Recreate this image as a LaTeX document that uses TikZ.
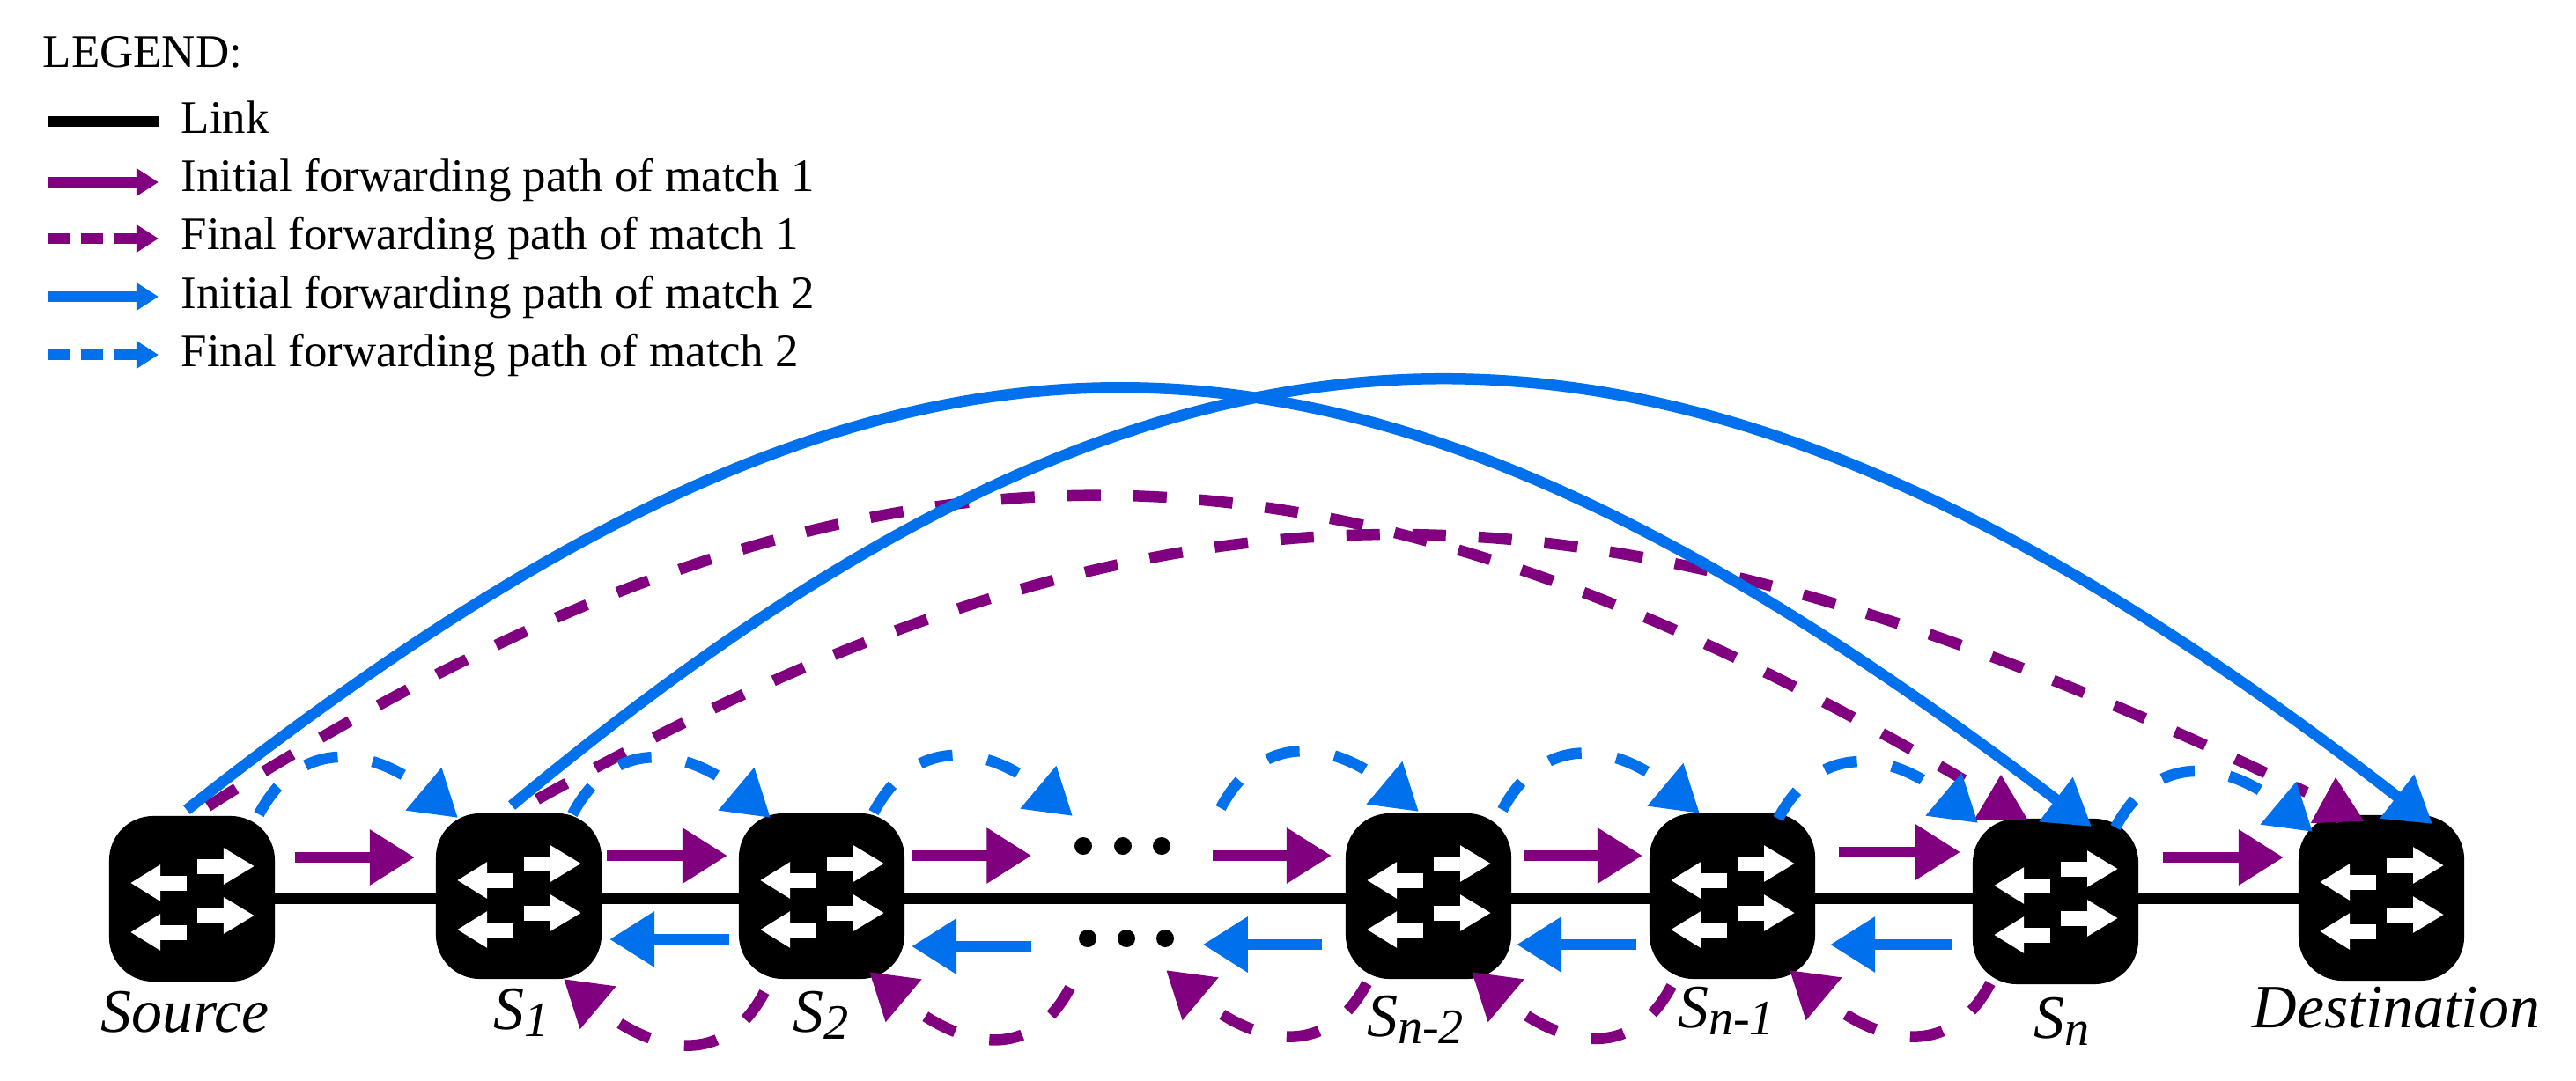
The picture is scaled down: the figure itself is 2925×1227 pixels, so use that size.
\documentclass[tikz,border=0pt]{standalone}
\usepackage{fontspec}
\setmainfont{Liberation Serif}
\usetikzlibrary{arrows.meta}
\definecolor{matchone}{HTML}{800080}
\definecolor{matchtwo}{HTML}{0070EC}
\newcommand{\swsub}[1]{\raisebox{-.08cm}{\fontsize{16}{16}\selectfont #1}}
\tikzset{
	bighead/.style={-{Triangle[length=.51cm,width=.6cm]}},
	smallhead/.style={-{Triangle[length=.25cm,width=.3cm]}},
	link/.style={line width=.125cm},
	initone/.style={bighead, matchone, line width=.125cm},
	inittwo/.style={bighead, matchtwo, line width=.125cm},
	arcone/.style={matchone, line width=.125cm, dash pattern=on .38cm off .37cm},
	arctwo/.style={matchtwo, line width=.125cm},
	hopone/.style={bighead, matchone, line width=.125cm, dash pattern=on .38cm off .4cm},
	hoptwo/.style={bighead, matchtwo, line width=.125cm, dash pattern=on .38cm off .4cm},
	legone/.style={matchone, line width=.125cm, smallhead},
	legonedash/.style={legone, dash pattern=on .25cm off .13cm},
	legtwo/.style={matchtwo, line width=.125cm, smallhead},
	legtwodash/.style={legtwo, dash pattern=on .25cm off .13cm},
	switch/.style={fill=black, rounded corners=.5cm, minimum size=1.88cm, inner sep=0pt, outer sep=0pt},
	swname/.style={anchor=base, inner sep=0pt, font=\fontsize{19.9}{24}\selectfont\itshape},
	legtext/.style={anchor=base west, inner sep=0pt, font=\fontsize{15.05}{18}\selectfont},
	dotmark/.style={circle, fill=black, minimum size=.2cm, inner sep=0pt},
	swarrows/.pic={
		\foreach \y in {-37,19}
			\draw[white, line width=.17cm, -{Triangle[length=.35cm,width=.39cm]}] (6,\y) -- (71,\y);
		\foreach \y in {-18,38}
			\draw[white, line width=.17cm, -{Triangle[length=.34cm,width=.39cm]}] (-6,\y) -- (-70,\y);
	}
}
\begin{document}
\begin{tikzpicture}[x=.01cm, y=-.01cm]
	\useasboundingbox (0,0) rectangle (2925,1227);

	% legend
	\node[legtext] (legtitle) at (48,77) {LEGEND:};
	\foreach \n/\t/\u/\v/\s in {
		leglink/Link/151/138/link,
		leginitone/Initial forwarding path of match 1/217/207/legone,
		legfinone/Final forwarding path of match 1/283/271/legonedash,
		leginittwo/Initial forwarding path of match 2/350/337/legtwo,
		legfintwo/Final forwarding path of match 2/416/403/legtwodash}{
		\node[legtext] (\n) at (205,\u) {\t};
		\coordinate (\n a) at (54,\v);
		\coordinate (\n b) at (180,\v);
		\draw[\s] (\n a) -- (\n b);
	}

	% switches
	\coordinate (linka) at (218,1021);
	\coordinate (linkb) at (2704,1021);
	\draw[link] (linka) -- (linkb);
	\node[switch] (src) at (218,1021) {};
	\node[switch] (s1) at (589,1018) {};
	\node[switch] (s2) at (933,1018) {};
	\node[switch] (sn2) at (1622,1018) {};
	\node[switch] (sn1) at (1967,1018) {};
	\node[switch] (sn) at (2334,1024) {};
	\node[switch] (dest) at (2704,1020) {};
	\foreach \n in {src,s1,s2,sn2,sn1,sn,dest}
		\pic at (\n) {swarrows};

	\node[swname] (srcname) at (210,1172) {Source};
	\node[swname] (s1name) at (592,1169) {S\swsub{1}};
	\node[swname] (s2name) at (932,1172) {S\swsub{2}};
	\node[swname] (sn2name) at (1607,1177) {S\swsub{n-2}};
	\node[swname] (sn1name) at (1960,1167) {S\swsub{n-1}};
	\node[swname] (snname) at (2341,1179) {S\swsub{n}};
	\node[swname] (destname) at (2721,1167) {Destination};

	% dots between S2 and Sn-2
	\foreach \n/\x/\y in {upa/1230/961,upb/1275/961,upc/1319/961,downa/1235/1066,downb/1279/1066,downc/1323/1066}
		\node[dotmark] (\n) at (\x,\y) {};

	% straight arrows
	\foreach \a/\b/\y/\p/\q in {src.east/s1.west/974/.23/.24, s1.east/s2.west/972/.06/.13, s2.east/upa.west/972/.08/.48, upc.east/sn2.west/972/.47/.16, sn2.east/sn1.west/972/.14/.08, sn1.east/sn.west/968/.27/.14, sn.east/dest.west/974/.28/.17}
		\draw[initone, shorten <=\p cm, shorten >=\q cm] (\a |- 0,\y) -- (\b |- 0,\y);
	\foreach \a/\b/\y/\p/\q in {s2.west/s1.east/1067/.11/.09, downa.west/s2.east/1075/.53/.08, sn2.west/downc.east/1073/.27/.32, sn1.west/sn2.east/1073/.15/.06, sn.west/sn1.east/1073/.24/.17}
		\draw[inittwo, shorten <=\p cm, shorten >=\q cm] (\a |- 0,\y) -- (\b |- 0,\y);

	% long paths
	\draw[arcone] ([shift={(18,-105)}]src.center) .. controls +(734,-466) and +(-741,-436) .. ([shift={(-104,-138)}]sn.center);
	\draw[arcone] ([shift={(21,-110)}]s1.center) .. controls +(724,-400) and +(-817,-392) .. ([shift={(-85,-120)}]dest.center);
	\draw[arctwo,bighead] ([shift={(-6,-101)}]src.center) .. controls +(810,-640) and +(-860,-655) .. ([shift={(41,-85)}]sn.center);
	\draw[arctwo,bighead] ([shift={(-8,-103)}]s1.center) .. controls +(775,-646) and +(-855,-665) .. ([shift={(58,-84)}]dest.center);
	\draw[initone, line width=.02cm] ([shift={(-62,-92)}]sn.center) -- ([shift={(-62,-144)}]sn.center);
	\draw[initone, line width=.02cm] ([shift={(-50,-85)}]dest.center) -- ([shift={(-52,-137)}]dest.center);

	% hops over and under
	\foreach \a/\ax/\ay/\b/\bx/\by in {
		src/76/-96/s1/-69/-89,
		s1/61/-93/s2/-58/-89,
		s2/59/-95/upb/-57/-34,
		upb/111/-43/sn2/-11/-96,
		sn2/84/-98/sn1/-37/-94,
		sn1/52/-88/sn/-88/-89,
		sn/68/-84/dest/-78/-75}
		\draw[hoptwo] ([shift={(\ax,\ay)}]\a.center) to[out=62, in=140, looseness=1.25] ([shift={(\bx,\by)}]\b.center);
	\foreach \a/\ax/\ay/\b/\bx/\by in {
		s2/-65/109/s1/51/94,
		downb/-64/56/s2/54/86,
		sn2/-70/99/downb/45/36,
		sn1/-69/102/sn2/49/86,
		sn/-74/93/sn1/65/84}
		\draw[hopone] ([shift={(\ax,\ay)}]\a.center) to[out=242, in=-40, looseness=1.25] ([shift={(\bx,\by)}]\b.center);
\end{tikzpicture}
\end{document}
